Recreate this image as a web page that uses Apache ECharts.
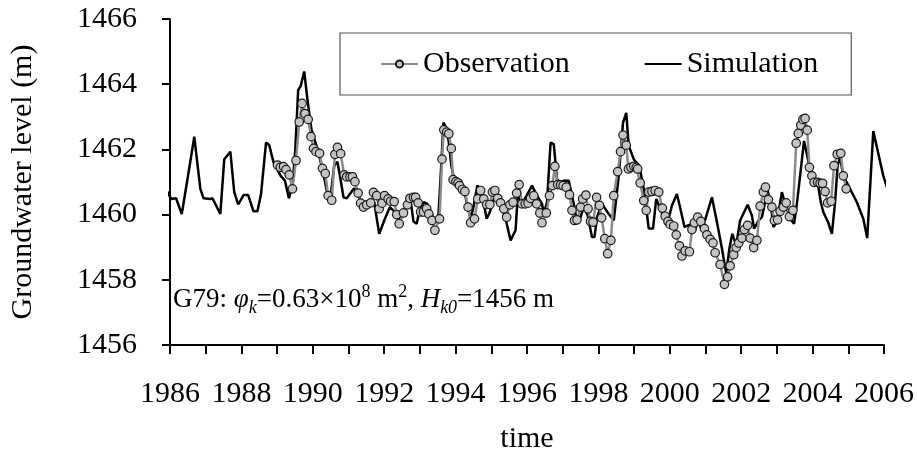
<!DOCTYPE html>
<html>
<head>
<meta charset="utf-8">
<script src="https://cdn.jsdelivr.net/npm/echarts@6/dist/echarts.min.js"></script>
<style>
    html, body { margin: 0; padding: 0; background: #fff; }
    #chart { width: 917px; height: 459px; }
</style>
</head>
<body>
<div id="chart"></div>
<script>
    /* axis ranges */
    const yearMin = 1986, yearMax = 2006, yearStep = 2
    const levelMin = 1456, levelMax = 1466, levelStep = 2

    /* observed groundwater level (year, m) */
    const obsYear = [
        1989.01, 1989.09, 1989.18, 1989.25, 1989.34, 1989.43, 1989.53, 1989.62, 1989.70, 1989.78, 1989.87, 1989.95,
        1990.02, 1990.09, 1990.19, 1990.27, 1990.35, 1990.43, 1990.53, 1990.62, 1990.69, 1990.78, 1990.88, 1990.95,
        1991.04, 1991.11, 1991.18, 1991.27, 1991.34, 1991.42, 1991.51, 1991.62, 1991.70, 1991.79, 1991.86, 1991.94,
        1992.01, 1992.11, 1992.18, 1992.28, 1992.35, 1992.42, 1992.54, 1992.65,
        1992.72, 1992.82, 1992.88, 1992.95, 1993.02, 1993.10, 1993.19, 1993.25, 1993.34, 1993.42, 1993.55, 1993.62,
        1993.67, 1993.75, 1993.81, 1993.88, 1993.93, 1994.01, 1994.07, 1994.11, 1994.19, 1994.26, 1994.35, 1994.42,
        1994.53, 1994.62, 1994.70, 1994.79, 1994.87, 1994.96, 1995.03, 1995.10, 1995.18, 1995.26, 1995.35, 1995.43,
        1995.52, 1995.61, 1995.71, 1995.78, 1995.86, 1995.95, 1996.03, 1996.10, 1996.19, 1996.27, 1996.36, 1996.42,
        1996.54, 1996.63, 1996.71, 1996.78, 1996.86, 1996.94, 1997.01, 1997.10, 1997.19, 1997.26, 1997.33, 1997.40,
        1997.50, 1997.56, 1997.65, 1997.71, 1997.78, 1997.85, 1997.95, 1998.03, 1998.09, 1998.18, 1998.26, 1998.35,
        1998.43, 1998.54, 1998.62, 1998.69, 1998.78, 1998.84, 1998.91, 1998.99, 1999.06, 1999.10, 1999.17, 1999.27,
        1999.34, 1999.41, 1999.50, 1999.59, 1999.69,
        1999.79, 1999.87, 1999.95, 2000.01, 2000.11, 2000.18, 2000.27, 2000.34, 2000.43, 2000.55, 2000.62, 2000.69,
        2000.78, 2000.87, 2000.97, 2001.04, 2001.13, 2001.21, 2001.27, 2001.41, 2001.53, 2001.62, 2001.69, 2001.79,
        2001.86, 2001.93, 2002.02, 2002.09, 2002.18, 2002.25, 2002.35, 2002.44, 2002.53, 2002.62, 2002.68, 2002.76,
        2002.86, 2002.93, 2003.02, 2003.09, 2003.18, 2003.26, 2003.35, 2003.45, 2003.54, 2003.60, 2003.67, 2003.73,
        2003.79, 2003.85, 2003.91, 2003.98, 2004.04, 2004.14, 2004.21, 2004.28, 2004.35, 2004.42, 2004.52, 2004.60,
        2004.69, 2004.79, 2004.86, 2004.94
    ]
    const obsLevel = [
        1461.52, 1461.45, 1461.47, 1461.38, 1461.22, 1460.79, 1461.66, 1462.84, 1463.41, 1463.10, 1462.92, 1462.39,
        1462.03, 1461.93, 1461.88, 1461.42, 1461.26, 1460.58, 1460.44, 1461.85, 1462.06, 1461.87, 1461.22, 1461.16,
        1461.16, 1461.16, 1461.01, 1460.66, 1460.35, 1460.23, 1460.30, 1460.36, 1460.68, 1460.58, 1460.18, 1460.35,
        1460.58, 1460.48, 1460.41, 1460.40, 1460.00, 1459.72, 1460.05, 1460.30,
        1460.50, 1460.53, 1460.53, 1460.36, 1460.08, 1460.08, 1460.18, 1460.02, 1459.82, 1459.52, 1459.87, 1461.70,
        1462.60, 1462.53, 1462.48, 1462.03, 1461.07, 1461.01, 1460.97, 1460.89, 1460.77, 1460.71, 1460.23, 1459.75,
        1459.87, 1460.48, 1460.74, 1460.48, 1460.31, 1460.31, 1460.69, 1460.74, 1460.50, 1460.36, 1460.18, 1459.92,
        1460.30, 1460.38, 1460.66, 1460.92, 1460.33, 1460.33, 1460.35, 1460.50, 1460.58, 1460.33, 1460.05, 1459.75,
        1460.05, 1460.58, 1460.89, 1461.48, 1460.92, 1460.91, 1460.89, 1460.84, 1460.61, 1460.13, 1459.82, 1459.84,
        1460.23, 1460.48, 1460.60, 1460.18, 1459.79, 1459.77, 1460.53, 1460.28, 1459.90, 1459.26, 1458.80, 1459.21,
        1460.58, 1461.32, 1461.93, 1462.44, 1462.13, 1461.40, 1461.45, 1461.48, 1461.45, 1461.40, 1460.97, 1460.43,
        1460.13, 1460.69, 1460.71, 1460.74, 1460.69,
        1460.20, 1459.95, 1459.79, 1459.70, 1459.65, 1459.38, 1459.04, 1458.73, 1458.89, 1458.86, 1459.54, 1459.75,
        1459.92, 1459.79, 1459.57, 1459.38, 1459.24, 1459.13, 1458.83, 1458.47, 1457.86, 1458.09, 1458.43, 1458.77,
        1458.99, 1459.13, 1459.28, 1459.54, 1459.67, 1459.28, 1458.99, 1459.21, 1460.26, 1460.69, 1460.84, 1460.46,
        1460.23, 1459.82, 1459.84, 1460.10, 1460.23, 1460.36, 1459.94, 1460.13, 1462.19, 1462.49, 1462.74, 1462.92,
        1462.95, 1462.59, 1461.45, 1461.19, 1460.99, 1460.99, 1460.96, 1460.96, 1460.71, 1460.36, 1460.41, 1461.50,
        1461.85, 1461.88, 1461.19, 1460.79
    ]

    /* simulated groundwater level (year, m) */
    const simYear = [
        1985.92, 1986.03, 1986.17, 1986.33, 1986.49, 1986.68, 1986.85, 1986.94, 1987.13, 1987.19, 1987.41, 1987.52,
        1987.69, 1987.80, 1987.91, 1988.06, 1988.19, 1988.34, 1988.45, 1988.55, 1988.69, 1988.78, 1988.90, 1989.10,
        1989.22, 1989.33, 1989.43, 1989.51, 1989.59, 1989.66, 1989.76, 1989.85, 1989.96, 1990.13, 1990.27, 1990.41,
        1990.50, 1990.60, 1990.69, 1990.76, 1990.86, 1990.95, 1991.16, 1991.32, 1991.51, 1991.72, 1991.86, 1992.00,
        1992.16, 1992.35, 1992.46, 1992.72, 1992.82, 1992.91, 1993.00, 1993.11, 1993.21, 1993.30, 1993.39, 1993.51,
        1993.58, 1993.66, 1993.75, 1993.81, 1993.88, 1993.95, 1994.07, 1994.14, 1994.23, 1994.33, 1994.42, 1994.49,
        1994.61, 1994.70, 1994.79, 1994.87, 1994.96, 1995.07, 1995.17, 1995.26, 1995.40, 1995.54, 1995.68, 1995.74,
        1995.87, 1995.99, 1996.14, 1996.28, 1996.42, 1996.47, 1996.56, 1996.66, 1996.75, 1996.84, 1996.94, 1997.03,
        1997.17, 1997.26, 1997.33, 1997.40, 1997.50, 1997.59, 1997.70, 1997.82, 1997.89, 1997.96, 1998.10, 1998.29,
        1998.43, 1998.57, 1998.69, 1998.78, 1998.85, 1998.99, 1999.10, 1999.17, 1999.27, 1999.34, 1999.41, 1999.53,
        1999.62, 1999.81, 1999.92, 2000.06, 2000.20, 2000.34, 2000.41, 2000.56, 2000.69, 2000.79, 2000.90, 2001.18,
        2001.32, 2001.46, 2001.58, 2001.67, 2001.75, 2001.86, 2001.97, 2002.18, 2002.30, 2002.36, 2002.49, 2002.58,
        2002.74, 2002.83, 2002.90, 2003.00, 2003.14, 2003.23, 2003.37, 2003.48, 2003.56, 2003.76, 2003.91, 2004.02,
        2004.14, 2004.23, 2004.30, 2004.44, 2004.54, 2004.63, 2004.70, 2004.77, 2004.86, 2005.05, 2005.24, 2005.42,
        2005.53, 2005.70, 2005.98, 2006.17
    ]
    const simLevel = [
        1460.71, 1460.48, 1460.50, 1460.02, 1461.09, 1462.39, 1460.79, 1460.50, 1460.48, 1460.50, 1460.02, 1461.70,
        1461.93, 1460.69, 1460.31, 1460.60, 1460.60, 1460.10, 1460.10, 1460.63, 1462.21, 1462.13, 1461.60, 1461.19,
        1461.04, 1460.50, 1460.89, 1462.01, 1463.82, 1463.94, 1464.39, 1463.53, 1462.62, 1462.01, 1461.40, 1460.63,
        1460.58, 1461.50, 1461.62, 1461.19, 1460.53, 1460.50, 1460.81, 1460.48, 1460.30, 1460.38, 1459.41, 1459.82,
        1460.23, 1460.02, 1459.87, 1460.58, 1459.79, 1459.72, 1460.20, 1460.38, 1460.33, 1460.08, 1459.87, 1459.82,
        1461.14, 1462.82, 1462.64, 1462.21, 1461.50, 1461.14, 1461.09, 1461.04, 1460.79, 1460.28, 1459.87, 1460.18,
        1460.89, 1460.79, 1460.33, 1459.87, 1460.08, 1460.48, 1460.58, 1460.38, 1459.87, 1459.21, 1459.52, 1460.58,
        1460.38, 1460.58, 1460.89, 1460.58, 1460.33, 1460.02, 1460.38, 1462.21, 1462.16, 1461.09, 1460.99, 1461.04,
        1461.04, 1460.58, 1460.23, 1459.72, 1459.92, 1460.23, 1459.97, 1459.31, 1459.31, 1459.92, 1460.33, 1460.02,
        1459.82, 1461.19, 1462.82, 1463.12, 1462.11, 1461.70, 1461.55, 1461.35, 1460.79, 1460.18, 1459.57, 1459.57,
        1460.48, 1459.97, 1459.67, 1460.28, 1460.63, 1459.97, 1459.62, 1459.69, 1459.47, 1459.82, 1459.52, 1460.53,
        1459.77, 1458.96, 1458.20, 1458.96, 1459.41, 1459.06, 1459.82, 1460.30, 1459.97, 1459.57, 1459.82, 1459.92,
        1460.74, 1460.33, 1459.62, 1459.77, 1460.69, 1460.33, 1459.87, 1459.72, 1460.33, 1462.26, 1461.50, 1461.19,
        1460.99, 1460.38, 1460.08, 1459.75, 1459.41, 1460.38, 1461.50, 1461.75, 1461.19, 1460.79, 1460.38, 1459.87,
        1459.28, 1462.56, 1461.19, 1460.53
    ]

    const serif = 'Liberation Serif'

    function pairs (xs, ys) {
        let out = []
        for (let i = 0; i < xs.length; i++) out.push([xs[i], ys[i]])
        return out
    }

    const chart = echarts.init(document.getElementById('chart'))
    chart.setOption({
        backgroundColor: '#fff',
        animation: false,
        grid: { left: 169, right: 33, top: 19, bottom: 112 },
        legend: {
            data: [
                { name: 'Observation' },
                { name: 'Simulation', itemStyle: { opacity: 0 } }
            ],
            left: 340,
            top: 33,
            padding: [16, 33, 16, 40],
            itemWidth: 37,
            itemHeight: 9,
            itemGap: 74,
            borderColor: '#555',
            borderWidth: 1.2,
            backgroundColor: '#fff',
            textStyle: { fontFamily: serif, fontSize: 30, color: '#000' }
        },
        xAxis: {
            type: 'value',
            min: yearMin,
            max: yearMax,
            interval: yearStep,
            name: 'time',
            nameLocation: 'middle',
            nameGap: 79,
            nameTextStyle: { fontFamily: serif, fontSize: 30, color: '#000' },
            axisLine: { onZero: false, lineStyle: { color: '#000', width: 2 } },
            axisTick: { inside: false, length: 9, lineStyle: { color: '#000', width: 2 } },
            minorTick: { show: true, splitNumber: 2, length: 9, lineStyle: { color: '#000', width: 2 } },
            axisLabel: { margin: 34, fontFamily: serif, fontSize: 30, color: '#000', formatter: (v) => String(v) },
            splitLine: { show: false }
        },
        yAxis: {
            type: 'value',
            min: levelMin,
            max: levelMax,
            interval: levelStep,
            name: 'Groundwater level (m)',
            nameLocation: 'middle',
            nameGap: 132,
            nameTextStyle: { fontFamily: serif, fontSize: 30, color: '#000' },
            axisLine: { show: true, lineStyle: { color: '#000', width: 2 } },
            axisTick: { show: true, inside: false, length: 8, lineStyle: { color: '#000', width: 2 } },
            axisLabel: { margin: 33, fontFamily: serif, fontSize: 30, color: '#000', formatter: (v) => String(v) },
            splitLine: { show: false }
        },
        series: [
            {
                name: 'Simulation',
                type: 'line',
                data: pairs(simYear, simLevel),
                symbol: 'none',
                clip: false,
                lineStyle: { color: '#000', width: 2.5 },
                itemStyle: { color: '#000' },
                z: 2
            },
            {
                name: 'Observation',
                type: 'line',
                data: pairs(obsYear, obsLevel),
                symbol: 'circle',
                symbolSize: 8.5,
                showAllSymbol: true,
                lineStyle: { color: '#8a8a8a', width: 2.5 },
                itemStyle: { color: '#c4c4c4', borderColor: '#1a1a1a', borderWidth: 1.2 },
                z: 3
            }
        ],
        graphic: [
            {
                type: 'text',
                left: 173,
                top: 283,
                style: {
                    text: 'G79: {it|φ}{sub|k}=0.63×10{sup|8} m{sup|2}, {it|H}{sub|k0}=1456 m',
                    font: '27px "Liberation Serif"',
                    fill: '#000',
                    lineHeight: 34,
                    rich: {
                        it: { fontFamily: serif, fontSize: 27, fontStyle: 'italic', lineHeight: 34 },
                        sub: { fontFamily: serif, fontSize: 18, fontStyle: 'italic', lineHeight: 18, verticalAlign: 'bottom' },
                        sup: { fontFamily: serif, fontSize: 18, lineHeight: 18, verticalAlign: 'top' }
                    }
                }
            }
        ]
    })
</script>
</body>
</html>
